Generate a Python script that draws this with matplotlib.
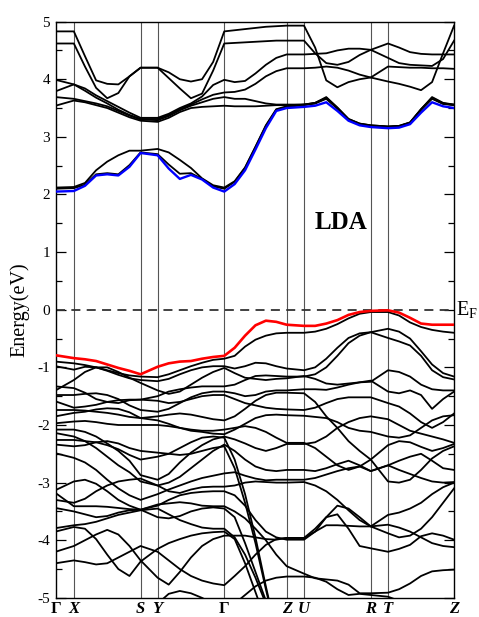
import numpy as np
import matplotlib
matplotlib.use("Agg")
import matplotlib.pyplot as plt

plt.rcParams["font.family"] = ["Liberation Serif", "DejaVu Serif"]
plt.rcParams["axes.unicode_minus"] = False

nan = np.nan

# high-symmetry path (positions = path length)
sym_labels = ["Γ", "X", "S", "Y", "Γ", "Z", "U", "R", "T", "Z"]
sym_pos = [0.0, 0.274, 1.274, 1.529, 2.528, 3.463, 3.723, 4.723, 4.982, 5.972]
seg_steps = [1, 6, 1, 6, 6, 1, 6, 1, 6]  # sampled k-points per segment

# ---- conduction bands (eV), one value per sampled k-point ----
cb1 = [2.05, 2.06, 2.15, 2.33, 2.35, 2.33, 2.48, 2.72, 2.68, 2.45, 2.27, 2.34, 2.26, 2.12, 2.05, 2.18, 2.42, 2.78, 3.15, 3.45, 3.50, 3.52, 3.54, 3.60, 3.45, 3.28, 3.20, 3.17, 3.15, 3.16, 3.22, 3.42, 3.60, 3.53, 3.50]
cb2 = [2.10, 2.11, 2.17, 2.35, 2.37, 2.35, 2.51, 2.73, 2.70, 2.52, 2.36, 2.37, 2.27, 2.14, 2.10, 2.22, 2.46, 2.82, 3.19, 3.47, 3.52, 3.55, 3.58, 3.68, 3.50, 3.30, 3.22, 3.19, 3.17, 3.18, 3.24, 3.47, 3.68, 3.58, 3.55]
cb3 = [2.12, 2.13, 2.20, 2.42, 2.57, 2.68, 2.76, 2.76, 2.79, 2.73, 2.60, 2.46, 2.28, 2.16, 2.12, 2.23, 2.47, 2.83, 3.20, 3.48, 3.53, 3.56, 3.59, 3.69, 3.51, 3.31, 3.23, 3.20, 3.18, 3.19, 3.25, 3.48, 3.69, 3.59, 3.56]
cb4 = [3.54, 3.63, 3.60, 3.55, 3.50, 3.42, 3.34, 3.28, 3.26, 3.33, 3.43, 3.50, 3.52, 3.53, 3.54, 3.53, 3.53, 3.53, 3.54, 3.55, 3.55, 3.56, 3.59, 3.67, 3.50, 3.31, 3.23, 3.20, 3.18, 3.19, 3.25, 3.48, 3.67, 3.58, 3.56]
cb5 = [3.69, 3.66, 3.62, 3.58, 3.53, 3.45, 3.37, 3.30, 3.29, 3.36, 3.46, 3.54, 3.60, 3.66, 3.69, 3.66, 3.66, 3.62, 3.58, 3.56, 3.56, 3.56, 3.58, 3.66, 3.49, 3.30, 3.22, 3.19, 3.17, 3.18, 3.24, 3.47, 3.66, 3.57, 3.55]
cb6 = [3.79, 3.91, 3.80, 3.68, 3.58, 3.47, 3.38, 3.31, 3.31, 3.38, 3.48, 3.56, 3.65, 3.73, 3.77, 3.78, 3.82, 3.92, 4.05, 4.14, 4.19, 4.19, 4.20, 4.22, 4.20, 4.15, 4.08, 4.03, 3.96, 3.92, 3.87, 3.81, 3.95, 4.45, 4.93]
cb7 = [3.99, 3.91, 3.84, 3.72, 3.62, 3.52, 3.42, 3.33, 3.33, 3.40, 3.50, 3.58, 3.70, 3.90, 3.99, 3.95, 3.97, 4.10, 4.25, 4.37, 4.43, 4.43, 4.44, 4.45, 4.50, 4.53, 4.53, 4.51, 4.37, 4.28, 4.25, 4.24, 4.23, 4.35, 4.67]
cb8 = [4.62, 4.62, 4.22, 3.85, 3.67, 3.76, 4.05, 4.20, 4.20, 4.02, 3.84, 3.67, 3.75, 4.15, 4.62, 4.63, 4.64, 4.65, 4.66, 4.67, 4.67, 4.67, 4.45, 4.28, 4.25, 4.30, 4.42, 4.51, 4.62, 4.55, 4.47, 4.44, 4.43, 4.43, 4.43]
cb9 = [4.83, 4.83, 4.40, 3.98, 3.92, 3.91, 4.05, 4.20, 4.20, 4.12, 4.00, 3.96, 4.00, 4.30, 4.83, 4.85, 4.87, 4.89, 4.91, 4.92, 4.93, 4.93, 4.55, 3.98, 3.86, 3.95, 4.00, 4.03, 4.22, 4.21, 4.20, 4.20, 4.19, 4.19, 4.18]

# ---- valence bands (eV) ----
vb1 = [-0.79, -0.84, -0.86, -0.89, -0.95, -1.01, -1.06, -1.12, -0.99, -0.93, -0.90, -0.89, -0.85, -0.82, -0.80, -0.66, -0.45, -0.27, -0.19, -0.21, -0.26, -0.28, -0.28, -0.24, -0.18, -0.09, -0.04, -0.02, -0.01, -0.05, -0.14, -0.24, -0.26, -0.26, -0.26]
vb2 = [-0.90, -0.93, -0.96, -1.00, -1.05, -1.10, -1.14, -1.16, -1.17, -1.12, -1.05, -0.98, -0.92, -0.87, -0.85, -0.80, -0.64, -0.52, -0.45, -0.41, -0.40, -0.40, -0.38, -0.33, -0.25, -0.15, -0.07, -0.04, -0.04, -0.10, -0.22, -0.30, -0.35, -0.38, -0.40]
vb3 = [-0.98, -1.04, -0.99, -1.00, -1.06, -1.13, -1.19, -1.22, -1.24, -1.20, -1.12, -1.05, -1.00, -0.98, -0.98, -1.02, -0.98, -0.92, -0.93, -0.98, -1.02, -1.05, -1.00, -0.85, -0.66, -0.49, -0.41, -0.39, -0.33, -0.38, -0.50, -0.72, -0.95, -1.10, -1.16]
vb4 = [-1.33, -1.36, -1.44, -1.55, -1.60, -1.62, -1.57, -1.56, -1.50, -1.42, -1.38, -1.35, -1.33, -1.33, -1.33, -1.30, -1.22, -1.15, -1.14, -1.15, -1.16, -1.16, -1.12, -1.00, -0.80, -0.58, -0.45, -0.39, -0.49, -0.55, -0.62, -0.80, -1.05, -1.17, -1.21]
vb5 = [-1.40, -1.22, -1.08, -1.00, -1.00, -1.08, -1.18, -1.27, -1.40, -1.46, -1.42, -1.30, -1.18, -1.08, -1.01, -1.10, -1.18, -1.20, -1.22, -1.20, -1.19, -1.15, -1.20, -1.28, -1.30, -1.28, -1.26, -1.25, -1.05, -1.08, -1.16, -1.30, -1.38, -1.40, -1.40]
vb6 = [-1.48, -1.48, -1.46, -1.45, -1.48, -1.55, -1.66, -1.74, -1.77, -1.72, -1.62, -1.52, -1.45, -1.42, -1.42, -1.45, -1.50, -1.48, -1.42, -1.40, -1.40, -1.38, -1.38, -1.39, -1.35, -1.30, -1.26, -1.23, -1.42, -1.45, -1.40, -1.48, -1.72, -1.55, -1.42]
vb7 = [-1.59, -1.70, -1.68, -1.65, -1.60, -1.57, -1.56, -1.56, -1.58, -1.62, -1.60, -1.55, -1.50, -1.48, -1.48, -1.55, -1.62, -1.66, -1.70, -1.72, -1.73, -1.74, -1.70, -1.62, -1.55, -1.52, -1.52, -1.52, -1.62, -1.68, -1.80, -1.95, -2.05, -1.95, -1.80]
vb8 = [-1.74, -1.74, -1.75, -1.77, -1.79, -1.82, -1.86, -1.88, -1.85, -1.82, -1.80, -1.82, -1.86, -1.90, -1.92, -1.85, -1.72, -1.58, -1.48, -1.44, -1.44, -1.45, -1.60, -1.85, -2.05, -2.28, -2.45, -2.60, -2.98, -3.00, -2.95, -2.78, -2.58, -2.45, -2.37]
vb9 = [-1.85, -1.79, -1.77, -1.73, -1.71, -1.72, -1.78, -1.88, -1.92, -1.98, -2.05, -2.10, -2.12, -2.15, -2.16, -2.08, -1.98, -1.88, -1.83, -1.82, -1.83, -1.84, -1.86, -1.88, -1.95, -2.05, -2.10, -2.12, -2.20, -2.22, -2.18, -2.05, -1.92, -1.85, -1.83]
vb10 = [-1.97, -1.94, -1.93, -1.95, -1.98, -2.00, -2.00, -2.00, -2.00, -2.02, -2.05, -2.08, -2.10, -2.10, -2.08, -2.05, -2.02, -2.05, -2.12, -2.22, -2.31, -2.31, -2.40, -2.55, -2.70, -2.78, -2.72, -2.60, -2.35, -2.28, -2.30, -2.38, -2.45, -2.40, -2.33]
vb11 = [-2.08, -2.08, -2.12, -2.20, -2.32, -2.45, -2.62, -2.87, -2.95, -2.85, -2.65, -2.48, -2.35, -2.25, -2.20, -2.25, -2.32, -2.40, -2.45, -2.40, -2.33, -2.33, -2.30, -2.20, -2.05, -1.95, -1.88, -1.85, -1.90, -2.00, -2.10, -2.15, -2.20, -2.25, -2.31]
vb12 = [-2.14, -2.20, -2.28, -2.40, -2.55, -2.70, -2.82, -2.98, -3.05, -3.00, -2.90, -2.75, -2.60, -2.45, -2.34, -2.45, -2.60, -2.72, -2.78, -2.80, -2.78, -2.78, -2.80, -2.75, -2.68, -2.62, -2.70, -2.80, -2.70, -2.62, -2.55, -2.50, -2.62, -2.75, -2.78]
vb13 = [-2.26, -2.26, -2.28, -2.30, -2.35, -2.42, -2.52, -2.60, -2.55, -2.50, -2.40, -2.30, -2.22, -2.20, -2.22, -2.60, -3.20, -3.95, -4.80, -5.60, nan, nan, nan, nan, nan, nan, nan, nan, nan, nan, nan, nan, nan, nan, nan]
vb14 = [-2.34, -2.37, -2.35, -2.30, -2.28, -2.32, -2.40, -2.45, -2.48, -2.50, -2.52, -2.50, -2.45, -2.40, -2.37, -2.75, -3.35, -4.05, -4.85, -5.60, nan, nan, nan, nan, nan, nan, nan, nan, nan, nan, nan, nan, nan, nan, nan]
vb15 = [-2.49, -2.57, -2.65, -2.78, -2.95, -3.10, -3.22, -3.30, -3.20, -3.12, -3.05, -2.98, -2.92, -2.88, -2.84, -2.82, -2.88, -2.93, -2.96, -2.95, -2.95, -2.95, -2.92, -2.86, -2.80, -2.75, -2.72, -2.80, -2.70, -2.78, -2.85, -2.92, -2.98, -3.00, -2.99]
vb16 = [-3.13, -2.98, -2.95, -3.02, -3.15, -3.30, -3.40, -3.47, -3.40, -3.30, -3.22, -3.18, -3.16, -3.15, -3.15, -3.22, -3.40, -3.65, -3.85, -3.95, -3.99, -3.99, -3.85, -3.60, -3.40, -3.45, -3.60, -3.76, -3.56, -3.52, -3.45, -3.35, -3.20, -3.08, -3.00]
vb17 = [-3.18, -3.41, -3.41, -3.41, -3.42, -3.44, -3.46, -3.47, -3.38, -3.36, -3.34, -3.36, -3.40, -3.41, -3.41, -3.50, -3.62, -3.80, -4.00, -4.25, -4.45, -4.58, -4.66, -4.68, -4.70, -4.77, -4.92, -4.92, -4.91, -4.85, -4.75, -4.62, -4.54, -4.52, -4.51]
vb18 = [-3.30, -3.35, -3.28, -3.15, -3.05, -2.98, -2.95, -2.93, -3.05, -3.15, -3.18, -3.12, -3.08, -3.07, -3.07, -3.05, -3.00, -2.98, -2.99, -3.00, -3.00, -2.99, -3.05, -3.15, -3.30, -3.48, -3.65, -3.76, -3.88, -3.95, -3.92, -3.80, -3.60, -3.35, -3.10]
vb19 = [-3.44, -3.50, -3.55, -3.60, -3.58, -3.52, -3.48, -3.47, -3.60, -3.62, -3.58, -3.50, -3.45, -3.43, -3.45, -3.60, -4.05, -4.55, -5.05, -5.55, nan, nan, nan, nan, nan, nan, nan, nan, nan, nan, nan, nan, nan, nan, nan]
vb20 = [-3.79, -3.74, -3.72, -3.68, -3.62, -3.56, -3.52, -3.48, -3.45, -3.55, -3.65, -3.72, -3.78, -3.80, -3.80, -3.95, -4.25, -4.65, -5.10, -5.60, nan, nan, nan, nan, nan, nan, nan, nan, nan, nan, nan, nan, nan, nan, nan]
vb21 = [-3.85, -3.77, -3.80, -3.98, -4.25, -4.50, -4.62, -4.37, -4.15, -4.05, -3.98, -3.92, -3.88, -3.86, -3.85, -3.98, -4.40, -4.90, -5.40, nan, nan, nan, nan, nan, nan, nan, nan, nan, nan, nan, nan, nan, nan, nan, nan]
vb22 = [-4.20, -4.10, -4.00, -3.90, -3.82, -3.90, -4.10, -4.35, -4.65, -4.77, -4.55, -4.30, -4.10, -3.98, -3.92, -3.92, -3.92, -3.95, -3.98, -3.99, -3.96, -3.96, -3.85, -3.74, -3.74, -3.75, -3.76, -3.76, -3.73, -3.78, -3.85, -3.95, -4.05, -4.10, -4.12]
vb23 = [-4.40, -4.35, -4.38, -4.42, -4.40, -4.30, -4.20, -4.10, -4.20, -4.35, -4.50, -4.62, -4.70, -4.75, -4.78, -4.62, -4.45, -4.25, -4.08, -3.98, -3.96, -3.96, -3.80, -3.60, -3.55, -3.80, -4.10, -4.14, -4.20, -4.15, -4.08, -3.93, -3.88, -3.92, -3.99]
vb24 = [-5.40, -5.40, -5.40, -5.40, -5.40, -5.40, -5.35, -5.30, -5.10, -4.93, -4.88, -4.92, -5.00, -5.10, -5.20, -5.10, -4.95, -4.80, -4.70, -4.65, -4.63, -4.63, -4.65, -4.72, -4.85, -4.95, -4.93, -4.95, -4.98, -5.05, -5.10, -5.15, -5.20, -5.25, -5.30]

# sampled k-points along the path
kpts = [sym_pos[0]]
for i, n in enumerate(seg_steps):
    kpts.extend(np.linspace(sym_pos[i], sym_pos[i + 1], n + 1)[1:])
kpts = np.array(kpts)

black_bands = [cb2, cb3, cb4, cb5, cb6, cb7, cb8, cb9,
               vb2, vb3, vb4, vb5, vb6, vb7, vb8, vb9, vb10, vb11, vb12,
               vb13, vb14, vb15, vb16, vb17, vb18, vb19, vb20, vb21, vb22,
               vb23, vb24]

fig = plt.figure(figsize=(4.79, 6.17), dpi=100)
ax = fig.add_axes([0.116, 0.031, 0.832, 0.934])

for p in sym_pos[1:-1]:
    ax.axvline(p, color="#555555", lw=0.8, zorder=1)
ax.axhline(0, color="#333333", lw=1.3, ls=(0, (5, 3.5)), zorder=2)

for band in black_bands:
    ax.plot(kpts, np.array(band, dtype=float), color="black", lw=1.3, zorder=3)
ax.plot(kpts, cb1, color="#0000ff", lw=1.7, zorder=4)
ax.plot(kpts, vb1, color="#ff0000", lw=1.9, zorder=4)

ax.set_xlim(sym_pos[0], sym_pos[-1])
ax.set_ylim(-5, 5)

ax.set_xticks(sym_pos)
ax.set_xticklabels(sym_labels, fontsize=12, fontweight="bold")
for lab in ax.get_xticklabels():
    if lab.get_text() != "Γ":
        lab.set_fontstyle("italic")
ax.tick_params(axis="x", length=0, pad=2)

ax.set_yticks(range(-5, 6))
ax.set_yticks(np.arange(-4.5, 5, 1.0), minor=True)
ax.tick_params(axis="y", which="major", direction="in", length=7, width=0.9,
               right=True, labelsize=11, pad=4)
ax.tick_params(axis="y", which="minor", direction="in", length=4.5, width=0.9,
               right=True)
for s in ax.spines.values():
    s.set_linewidth(1.0)

fig.text(20 / 479, 0.498, "Energy(eV)", rotation=90, fontsize=14.5,
         ha="center", va="center")
fig.text(0.953, 0.497, r"E$_{\mathregular{F}}$", fontsize=14.5, ha="left",
         va="center")
ax.text(0.716, 0.652, "LDA", transform=ax.transAxes, fontsize=18,
        fontweight="bold", ha="center", va="center")

fig.savefig("out.png", dpi=100)
